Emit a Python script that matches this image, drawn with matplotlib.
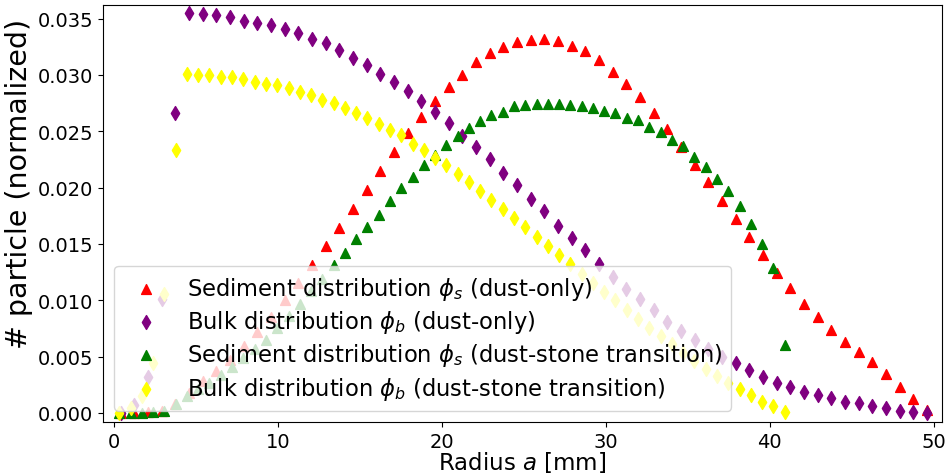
import matplotlib
matplotlib.use("Agg")
import matplotlib.pyplot as plt
from matplotlib.ticker import FormatStrFormatter

# bin centres [mm]
radius_dust = [0.42, 1.25, 2.08, 2.92, 3.75, 4.58, 5.42, 6.25, 7.08, 7.92,
               8.75, 9.58, 10.42, 11.25, 12.08, 12.92, 13.75, 14.58, 15.42, 16.25,
               17.08, 17.92, 18.75, 19.58, 20.42, 21.25, 22.08, 22.92, 23.75, 24.58,
               25.42, 26.25, 27.08, 27.92, 28.75, 29.58, 30.42, 31.25, 32.08, 32.92,
               33.75, 34.58, 35.42, 36.25, 37.08, 37.92, 38.75, 39.58, 40.42, 41.25,
               42.08, 42.92, 43.75, 44.58, 45.42, 46.25, 47.08, 47.92, 48.75, 49.58]

radius_trans = [0.34, 1.03, 1.72, 2.41, 3.09, 3.78, 4.47, 5.16, 5.84, 6.53,
                7.22, 7.91, 8.59, 9.28, 9.97, 10.66, 11.34, 12.03, 12.72, 13.41,
                14.09, 14.78, 15.47, 16.16, 16.84, 17.53, 18.22, 18.91, 19.59, 20.28,
                20.97, 21.66, 22.34, 23.03, 23.72, 24.41, 25.09, 25.78, 26.47, 27.16,
                27.84, 28.53, 29.22, 29.91, 30.59, 31.28, 31.97, 32.66, 33.34, 34.03,
                34.72, 35.41, 36.09, 36.78, 37.47, 38.16, 38.84, 39.53, 40.22, 40.91]

sed_dust = [0.0, 0.0, 0.0001, 0.0002, 0.0008, 0.0018, 0.0028, 0.0037, 0.0047, 0.0059,
            0.0072, 0.0085, 0.0100, 0.0115, 0.0131, 0.0148, 0.0164, 0.0181, 0.0198, 0.0215,
            0.0232, 0.0248, 0.0263, 0.0277, 0.0289, 0.0300, 0.0311, 0.0319, 0.0325, 0.0329,
            0.0331, 0.0332, 0.0330, 0.0326, 0.0321, 0.0313, 0.0303, 0.0292, 0.0280, 0.0266,
            0.0252, 0.0236, 0.0220, 0.0205, 0.0188, 0.0172, 0.0156, 0.0140, 0.0124, 0.0111,
            0.0097, 0.0085, 0.0074, 0.0063, 0.0054, 0.0045, 0.0035, 0.0023, 0.0012, 0.0003]

bulk_dust = [0.0, 0.0007, 0.0032, 0.0101, 0.0266, 0.0355, 0.0354, 0.0353, 0.0351, 0.0348,
             0.0346, 0.0344, 0.0341, 0.0337, 0.0332, 0.0328, 0.0322, 0.0315, 0.0309, 0.0301,
             0.0294, 0.0286, 0.0277, 0.0267, 0.0257, 0.0246, 0.0236, 0.0225, 0.0213, 0.0202,
             0.0190, 0.0179, 0.0166, 0.0155, 0.0145, 0.0132, 0.0121, 0.0110, 0.0101, 0.0091,
             0.0081, 0.0073, 0.0065, 0.0057, 0.0050, 0.0044, 0.0038, 0.0032, 0.0027, 0.0023,
             0.0019, 0.0016, 0.0013, 0.0010, 0.0009, 0.0006, 0.0004, 0.0002, 0.0001, 0.0]

sed_trans = [0.0, 0.0, 0.0, 0.0001, 0.0002, 0.0008, 0.0015, 0.0021, 0.0027, 0.0034,
             0.0041, 0.0049, 0.0057, 0.0065, 0.0075, 0.0086, 0.0097, 0.0108, 0.0119, 0.0131,
             0.0142, 0.0154, 0.0165, 0.0176, 0.0188, 0.0200, 0.0209, 0.0220, 0.0229, 0.0238,
             0.0246, 0.0253, 0.0259, 0.0264, 0.0267, 0.0272, 0.0273, 0.0274, 0.0274, 0.0274,
             0.0273, 0.0272, 0.0271, 0.0268, 0.0266, 0.0262, 0.0260, 0.0254, 0.0249, 0.0242,
             0.0237, 0.0227, 0.0218, 0.0208, 0.0197, 0.0184, 0.0168, 0.0150, 0.0129, 0.0060]

bulk_trans = [0.0, 0.0004, 0.0015, 0.0044, 0.0106, 0.0233, 0.0301, 0.0300, 0.0300, 0.0298,
              0.0298, 0.0296, 0.0294, 0.0292, 0.0291, 0.0288, 0.0285, 0.0282, 0.0278, 0.0275,
              0.0271, 0.0266, 0.0262, 0.0256, 0.0251, 0.0247, 0.0239, 0.0233, 0.0226, 0.0220,
              0.0212, 0.0205, 0.0197, 0.0189, 0.0181, 0.0173, 0.0165, 0.0156, 0.0148, 0.0140,
              0.0132, 0.0123, 0.0115, 0.0107, 0.0100, 0.0091, 0.0083, 0.0075, 0.0068, 0.0061,
              0.0053, 0.0046, 0.0039, 0.0033, 0.0027, 0.0021, 0.0016, 0.0010, 0.0006, 0.0001]

labels = [
    r"Sediment distribution $\phi_s$ (dust-only)",
    r"Bulk distribution $\phi_b$ (dust-only)",
    r"Sediment distribution $\phi_s$ (dust-stone transition)",
    r"Bulk distribution $\phi_b$ (dust-stone transition)",
]

fig = plt.figure(figsize=(9.47, 4.77), dpi=100)
ax = fig.add_axes([0.1088, 0.1132, 0.8859, 0.8742])

ax.scatter(radius_dust, sed_dust, marker="^", s=50, color="red", label=labels[0])
ax.scatter(radius_dust, bulk_dust, marker="d", s=50, color="purple", label=labels[1])
ax.scatter(radius_trans, sed_trans, marker="^", s=50, color="green", label=labels[2])
ax.scatter(radius_trans, bulk_trans, marker="d", s=50, color="yellow", label=labels[3])

ax.set_xlim(-0.65, 50.5)
ax.set_ylim(-0.0008, 0.0362)
ax.set_xticks([0, 10, 20, 30, 40, 50])
ax.set_yticks([0.0, 0.005, 0.010, 0.015, 0.020, 0.025, 0.030, 0.035])
ax.yaxis.set_major_formatter(FormatStrFormatter("%.3f"))
ax.tick_params(labelsize=14)

ax.set_xlabel("Radius $a$ [mm]", fontsize=16.5)
ax.xaxis.set_label_coords(0.5, -0.065)
ax.set_ylabel("# particle (normalized)", fontsize=20.5)
ax.yaxis.set_label_coords(-0.083, 0.574)
ax.legend(loc="lower left", fontsize=16.3, labelspacing=0.28, borderaxespad=0.5)

fig.savefig("out.png", dpi=100)
